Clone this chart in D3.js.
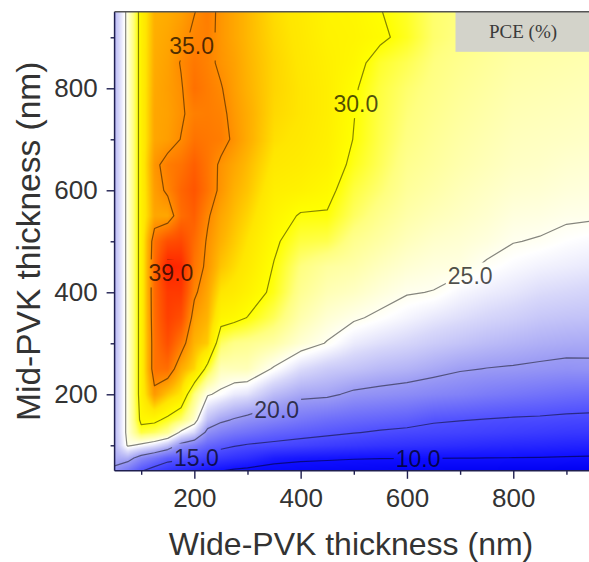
<!DOCTYPE html>
<html>
<head>
<meta charset="utf-8">
<script src="https://cdn.jsdelivr.net/npm/d3@7/dist/d3.min.js"></script>
<style>
  html, body { margin: 0; padding: 0; background: #ffffff; }
  svg { display: block; }
</style>
</head>
<body>
<svg id="chart" width="589" height="562"></svg>
<script>
// Wide-PVK thickness (nm) for each column of the PCE table
const wideThickness = [50, 75, 100, 125, 150, 175, 200, 225, 250, 275, 300, 350,
                       400, 450, 500, 550, 600, 650, 700, 750, 800, 850, 900, 950];
// Mid-PVK thickness (nm) for each row of the PCE table, bottom to top
const midThickness = [50, 75, 100, 125, 150, 200, 250, 300, 350, 400, 450, 500,
                      550, 600, 650, 700, 750, 800, 850, 900, 950];
// Simulated PCE (%): one row per Mid-PVK thickness, one entry per Wide-PVK thickness
const pceRows = [
  [19.5, 17.5, 15.2, 13.8, 12.8, 12.0, 11.2, 10.5, 10.05, 9.6, 9.3, 8.8, 8.5, 8.3, 8.1, 8.0, 7.9, 7.8, 7.7, 7.6, 7.5, 7.4, 7.3, 7.2],
  [20.8, 21.0, 18.8, 17.5, 16.0, 15.6, 14.7, 13.8, 13.2, 12.7, 12.3, 11.0, 10.6, 10.4, 10.2, 10.1, 10.08, 10.05, 10.02, 9.98, 9.95, 9.9, 9.8, 9.7],
  [21.3, 25.3, 24.5, 23.5, 22.0, 19.2, 18.0, 16.5, 15.8, 15.2, 14.8, 14.4, 14.0, 13.6, 13.2, 12.9, 12.7, 12.5, 12.3, 12.1, 11.9, 11.8, 11.6, 11.5],
  [21.5, 25.7, 29.0, 28.5, 27.5, 24.5, 23.0, 19.2, 18.2, 17.6, 17.2, 16.4, 15.9, 15.5, 15.1, 14.7, 14.4, 14.2, 14.0, 13.8, 13.6, 13.4, 13.2, 13.1],
  [21.5, 25.7, 30.6, 30.5, 29.5, 28.3, 26.0, 21.8, 20.5, 19.8, 19.2, 18.4, 17.6, 17.0, 16.6, 16.3, 16.0, 15.3, 15.1, 14.9, 14.7, 14.6, 14.4, 14.3],
  [21.5, 25.7, 31.1, 34.5, 33.0, 31.9, 28.0, 25.2, 24.6, 23.8, 23.5, 21.6, 20.6, 20.4, 19.6, 19.3, 19.0, 18.6, 18.3, 17.9, 17.6, 17.3, 17.0, 16.8],
  [21.5, 25.7, 31.1, 36.0, 36.2, 33.8, 32.5, 29.3, 26.5, 26.5, 26.5, 24.8, 23.2, 22.4, 22.0, 21.5, 21.2, 20.7, 20.2, 19.95, 19.8, 19.6, 19.4, 19.5],
  [21.4, 25.7, 31.1, 36.0, 37.5, 35.8, 33.5, 32.8, 28.5, 27.8, 27.6, 27.0, 25.8, 24.9, 23.8, 23.3, 22.9, 22.4, 22.0, 21.6, 21.3, 21.0, 20.8, 20.7],
  [21.4, 25.7, 31.1, 36.2, 38.2, 37.5, 34.3, 33.5, 30.8, 30.5, 29.95, 28.6, 26.8, 25.8, 25.2, 24.7, 24.2, 23.7, 23.3, 22.9, 22.6, 22.2, 22.0, 21.9],
  [21.4, 25.7, 31.1, 36.3, 38.5, 38.5, 35.3, 34.0, 32.0, 31.6, 31.0, 29.6, 27.5, 26.6, 26.2, 25.6, 25.1, 24.95, 24.3, 23.9, 23.6, 23.2, 23.0, 22.8],
  [21.5, 25.7, 31.1, 36.3, 39.6, 39.3, 35.9, 34.6, 33.0, 32.3, 31.6, 29.9, 28.0, 27.2, 26.9, 26.3, 25.8, 25.5, 25.4, 24.8, 24.4, 24.1, 23.9, 23.7],
  [21.5, 25.7, 31.1, 36.0, 37.5, 37.8, 36.3, 34.8, 33.6, 32.8, 32.0, 30.3, 29.0, 28.8, 27.6, 27.0, 26.4, 26.0, 25.8, 25.5, 25.05, 24.9, 24.6, 24.4],
  [21.5, 25.7, 31.1, 34.0, 34.0, 36.2, 36.8, 35.2, 34.0, 33.2, 32.5, 30.8, 29.85, 29.85, 28.5, 27.6, 26.9, 26.5, 26.2, 25.9, 25.5, 25.4, 25.2, 25.15],
  [21.5, 25.7, 31.1, 34.3, 35.3, 36.5, 37.2, 36.0, 34.6, 33.6, 33.0, 31.3, 31.0, 30.5, 29.0, 28.2, 27.3, 26.9, 26.5, 26.2, 25.9, 25.8, 25.6, 25.5],
  [21.5, 25.7, 31.1, 34.6, 35.6, 36.0, 36.8, 35.9, 34.7, 34.0, 33.3, 31.8, 31.5, 31.0, 29.6, 28.6, 27.6, 27.2, 26.8, 26.5, 26.2, 26.1, 25.9, 25.8],
  [21.5, 25.7, 31.1, 34.0, 34.3, 35.05, 36.0, 35.8, 35.6, 34.7, 33.8, 32.2, 31.8, 31.2, 29.95, 28.8, 27.9, 27.4, 27.0, 26.7, 26.4, 26.3, 26.2, 26.1],
  [21.5, 25.7, 31.1, 34.0, 34.2, 34.8, 35.5, 35.6, 35.4, 34.5, 33.8, 32.4, 32.0, 31.3, 30.05, 28.9, 28.1, 27.6, 27.2, 26.9, 26.6, 26.5, 26.4, 26.3],
  [21.5, 25.7, 31.1, 33.9, 34.3, 34.85, 36.1, 35.6, 35.1, 34.3, 33.6, 32.5, 32.0, 31.3, 30.2, 29.0, 28.3, 27.8, 27.4, 27.1, 26.8, 26.7, 26.6, 26.5],
  [21.5, 25.7, 31.1, 33.8, 34.2, 35.1, 35.8, 35.4, 34.7, 34.2, 33.5, 32.5, 31.9, 31.2, 30.6, 29.3, 28.7, 28.0, 27.6, 27.3, 27.0, 26.9, 26.8, 26.7],
  [21.5, 25.7, 31.1, 33.7, 34.0, 34.6, 35.3, 35.5, 34.6, 34.0, 33.4, 32.4, 31.8, 31.0, 30.8, 30.3, 29.5, 28.3, 27.9, 27.5, 27.2, 27.1, 27.0, 26.9],
  [21.5, 25.7, 31.1, 33.6, 33.8, 34.2, 34.95, 35.6, 34.6, 34.0, 33.4, 32.3, 31.7, 30.9, 30.7, 30.05, 29.4, 28.3, 28.0, 27.6, 27.3, 27.2, 27.1, 27.0]
];
// Iso-PCE levels (%) drawn as contour lines
const contourLevels = [10, 15, 20, 25, 30, 35, 39];

const xMajorTicks = [200, 400, 600, 800];
const xMinorTicks = [100, 300, 500, 700, 900];
const yMajorTicks = [200, 400, 600, 800];
const yMinorTicks = [100, 300, 500, 700, 900];
const xTitle = "Wide-PVK thickness (nm)";
const yTitle = "Mid-PVK thickness (nm)";
const legendTitle = "PCE (%)";

// Where each contour value is written, in (wide, mid) thickness units
const labelSpots = [
  { level: 35, wide: 195, mid: 882 },
  { level: 30, wide: 504, mid: 769 },
  { level: 39, wide: 156, mid: 437 },
  { level: 25, wide: 719, mid: 431 },
  { level: 20, wide: 355, mid: 169 },
  { level: 15, wide: 204, mid: 76 },
  { level: 10, wide: 621, mid: 73 }
];

// Colour ramp: blue for low PCE, white around 25 %, then yellow through orange to red
const rampStops  = [7, 10, 15, 20, 23, 24.6, 26, 28, 30, 32, 33.5, 35, 37, 39.5];
const rampColors = ["#0000f2", "#1010ff", "#5050ff", "#9c9cf4", "#d8d8fa", "#ffffff",
                    "#ffffcc", "#ffff80", "#ffff00", "#ffe600", "#ffb400", "#ff8c00",
                    "#ff5a00", "#ff2400"];

const svg = d3.select("#chart");
const plot = { left: 114.6, right: 593, top: 11.8, bottom: 470.8 };

const x = d3.scaleLinear().domain(d3.extent(wideThickness)).range([plot.left, plot.right]);
const y = d3.scaleLinear().domain(d3.extent(midThickness)).range([plot.bottom, plot.top]);
const color = d3.scaleLinear().domain(rampStops).range(rampColors)
  .interpolate(d3.interpolateRgb).clamp(true);

const nx = wideThickness.length, ny = midThickness.length;

// Bilinear lookup in the PCE table
function pceAt(w, m) {
  const i = Math.max(0, Math.min(nx - 2, d3.bisectRight(wideThickness, w) - 1));
  const j = Math.max(0, Math.min(ny - 2, d3.bisectRight(midThickness, m) - 1));
  const tx = Math.max(0, Math.min(1, (w - wideThickness[i]) / (wideThickness[i + 1] - wideThickness[i])));
  const ty = Math.max(0, Math.min(1, (m - midThickness[j]) / (midThickness[j + 1] - midThickness[j])));
  const a = pceRows[j][i] * (1 - tx) + pceRows[j][i + 1] * tx;
  const b = pceRows[j + 1][i] * (1 - tx) + pceRows[j + 1][i + 1] * tx;
  return a * (1 - ty) + b * ty;
}

const defs = svg.append("defs");
defs.append("clipPath").attr("id", "plot-area")
  .append("rect")
  .attr("x", plot.left).attr("y", plot.top)
  .attr("width", plot.right - plot.left).attr("height", plot.bottom - plot.top);

// Colour-filled map, one canvas pixel per screen pixel
const pw = Math.ceil(plot.right - plot.left), ph = Math.ceil(plot.bottom - plot.top);
const canvas = document.createElement("canvas");
canvas.width = pw; canvas.height = ph;
const ctx = canvas.getContext("2d");
const img = ctx.createImageData(pw, ph);
for (let r = 0; r < ph; r++) {
  const m = y.invert(plot.top + r + 0.5);
  for (let c = 0; c < pw; c++) {
    const w = x.invert(plot.left + c + 0.5);
    const col = d3.rgb(color(pceAt(w, m)));
    const k = (r * pw + c) * 4;
    img.data[k] = col.r; img.data[k + 1] = col.g; img.data[k + 2] = col.b; img.data[k + 3] = 255;
  }
}
ctx.putImageData(img, 0, 0);

const mapLayer = svg.append("g").attr("clip-path", "url(#plot-area)");
mapLayer.append("image")
  .attr("x", plot.left).attr("y", plot.top)
  .attr("width", pw).attr("height", ph)
  .attr("preserveAspectRatio", "none")
  .attr("href", canvas.toDataURL());

// Contour lines from the PCE table
const bands = d3.contours().size([nx, ny]).thresholds(contourLevels)(pceRows.flat());

function gridToValue(c, axis) {
  const f = Math.max(0, Math.min(axis.length - 1, c - 0.5));
  const i = Math.min(axis.length - 2, Math.floor(f));
  return axis[i] + (f - i) * (axis[i + 1] - axis[i]);
}
function toData(p) { return [gridToValue(p[0], wideThickness), gridToValue(p[1], midThickness)]; }
function alongEdge(a, b) {
  const ax = a[0] - 0.5, ay = a[1] - 0.5, bx = b[0] - 0.5, by = b[1] - 0.5;
  return (ax <= 0 && bx <= 0) || (ax >= nx - 1 && bx >= nx - 1) ||
         (ay <= 0 && by <= 0) || (ay >= ny - 1 && by >= ny - 1);
}

const isoLines = [];
bands.forEach(band => {
  band.coordinates.forEach(polygon => polygon.forEach(ring => {
    let run = [];
    for (let k = 0; k < ring.length - 1; k++) {
      const a = ring[k], b = ring[k + 1];
      if (alongEdge(a, b)) {
        if (run.length > 1) isoLines.push({ level: band.value, points: run });
        run = [];
        continue;
      }
      if (run.length === 0) run.push(toData(a));
      run.push(toData(b));
    }
    if (run.length > 1) isoLines.push({ level: band.value, points: run });
  }));
});

const mask = defs.append("mask").attr("id", "label-gaps")
  .attr("maskUnits", "userSpaceOnUse")
  .attr("x", 0).attr("y", 0).attr("width", 589).attr("height", 562);
mask.append("rect").attr("x", 0).attr("y", 0).attr("width", 589).attr("height", 562).attr("fill", "#fff");

const lineGen = d3.line().x(p => x(p[0])).y(p => y(p[1]));
mapLayer.append("g")
  .attr("mask", "url(#label-gaps)")
  .selectAll("path")
  .data(isoLines)
  .join("path")
  .attr("d", d => lineGen(d.points))
  .attr("fill", "none")
  .attr("stroke", "#000")
  .attr("stroke-opacity", 0.48)
  .attr("stroke-width", 1.2)
  .attr("stroke-linejoin", "round");

// Contour value labels
const labelFormat = d3.format(".1f");
const labels = mapLayer.append("g")
  .selectAll("text")
  .data(labelSpots)
  .join("text")
  .attr("x", d => x(d.wide))
  .attr("y", d => y(d.mid))
  .attr("text-anchor", "middle")
  .attr("dominant-baseline", "central")
  .attr("font-family", "'Liberation Sans', Arial, sans-serif")
  .attr("font-size", 23)
  .attr("fill", "#000")
  .attr("fill-opacity", 0.7)
  .text(d => labelFormat(d.level));

labels.each(function () {
  const bb = this.getBBox();
  mask.append("rect")
    .attr("x", bb.x - 2).attr("y", bb.y - 1)
    .attr("width", bb.width + 4).attr("height", bb.height + 2)
    .attr("fill", "#000");
});

// Legend caption box
svg.append("rect")
  .attr("x", 455.5).attr("y", plot.top)
  .attr("width", 140).attr("height", 40)
  .attr("fill", "#d3d3ca");
svg.append("text")
  .attr("x", 523).attr("y", 38)
  .attr("text-anchor", "middle")
  .attr("font-family", "'Liberation Serif', 'Times New Roman', serif")
  .attr("font-size", 19)
  .attr("fill", "#3a3a3a")
  .text(legendTitle);

// Frame
const frameColor = "#1e1e50";
svg.append("line").attr("x1", plot.left).attr("x2", plot.left).attr("y1", plot.top).attr("y2", plot.bottom)
  .attr("stroke", frameColor).attr("stroke-width", 1.5);
svg.append("line").attr("x1", plot.left).attr("x2", plot.right).attr("y1", plot.bottom).attr("y2", plot.bottom)
  .attr("stroke", frameColor).attr("stroke-width", 1.5);
svg.append("line").attr("x1", plot.left).attr("x2", plot.right).attr("y1", plot.top).attr("y2", plot.top)
  .attr("stroke", "#555").attr("stroke-width", 1.5);

// Axes
function styleAxis(g) {
  g.select(".domain").remove();
  g.attr("font-family", "'Liberation Sans', Arial, sans-serif").attr("font-size", 26);
  g.selectAll(".tick line").attr("stroke", frameColor).attr("stroke-width", 1.4);
  g.selectAll(".tick text").attr("fill", "#333");
}
svg.append("g").attr("transform", `translate(0,${plot.bottom})`)
  .call(d3.axisBottom(x).tickValues(xMinorTicks).tickSize(4).tickFormat(""))
  .call(styleAxis);
svg.append("g").attr("transform", `translate(0,${plot.bottom})`)
  .call(d3.axisBottom(x).tickValues(xMajorTicks).tickSize(8).tickPadding(10).tickFormat(d3.format("d")))
  .call(styleAxis);
svg.append("g").attr("transform", `translate(${plot.left},0)`)
  .call(d3.axisLeft(y).tickValues(yMinorTicks).tickSize(4).tickFormat(""))
  .call(styleAxis);
svg.append("g").attr("transform", `translate(${plot.left},0)`)
  .call(d3.axisLeft(y).tickValues(yMajorTicks).tickSize(8).tickPadding(9).tickFormat(d3.format("d")))
  .call(styleAxis);

// Axis titles
svg.append("text")
  .attr("x", 351).attr("y", 555)
  .attr("text-anchor", "middle")
  .attr("font-family", "'Liberation Sans', Arial, sans-serif")
  .attr("font-size", 32)
  .attr("fill", "#333")
  .text(xTitle);
svg.append("text")
  .attr("transform", `translate(39.5,${(plot.top + plot.bottom) / 2}) rotate(-90)`)
  .attr("text-anchor", "middle")
  .attr("font-family", "'Liberation Sans', Arial, sans-serif")
  .attr("font-size", 33.5)
  .attr("fill", "#333")
  .text(yTitle);
</script>
</body>
</html>
